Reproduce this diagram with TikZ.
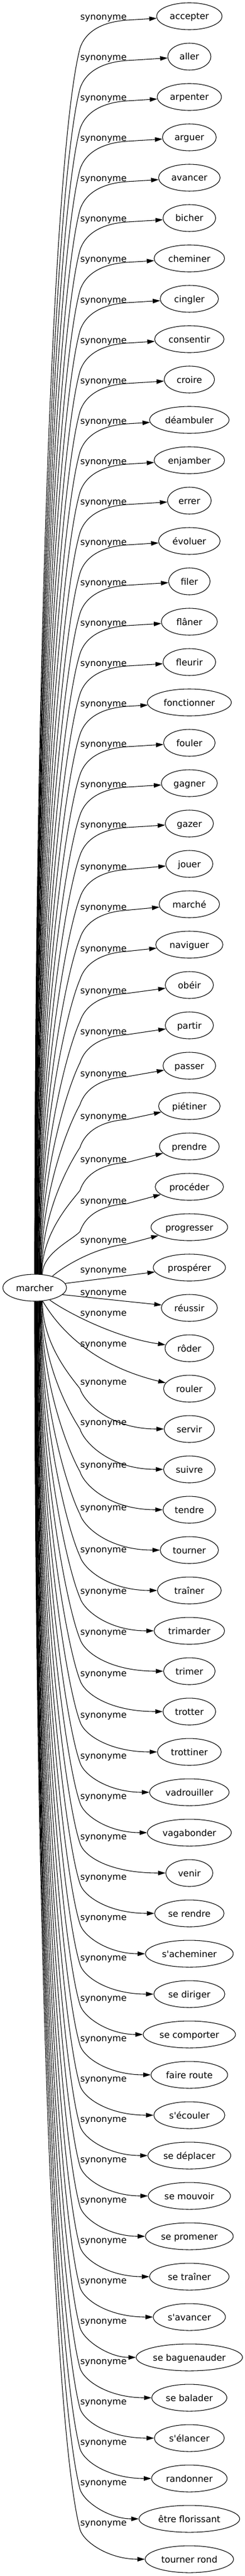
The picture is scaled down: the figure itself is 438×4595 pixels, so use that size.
\documentclass[tikz,border=0pt]{standalone}
\usepackage{fontspec}
\newfontfamily\dv{DejaVu Sans}
\usetikzlibrary{arrows.meta,shapes.geometric,calc}
\def\lst{1/accepter/117/2, 2/aller/77/2, 3/arpenter/115/2, 4/arguer/96/2, 5/avancer/110/2, 6/bicher/94/2, 7/cheminer/126/2, 8/cingler/104/2, 9/consentir/124/2, 10/croire/90/2, 11/déambuler/142/2, 12/enjamber/126/2, 13/errer/78/2, 14/évoluer/110/2, 15/filer/74/2, 16/flâner/100/2, 17/fleurir/94/2, 18/fonctionner/150/2, 19/fouler/92/2, 20/gagner/100/2, 21/gazer/86/2, 22/jouer/84/5, 23/marché/108/5.6, 24/naviguer/120/7, 25/obéir/86/10, 26/partir/86/11.6, 27/passer/94/14.5, 28/piétiner/110/18.8, 29/prendre/107/23.5, 30/procéder/122/25, 31/progresser/137/23, 32/prospérer/129/4, 33/réussir/100/-28, 34/rôder/87/-63, 35/rouler/92/-80, 36/servir/90/-84, 37/suivre/92/-84, 38/tendre/94/-80, 39/tourner/104/-76, 40/traîner/114/-73, 41/trimarder/126/-71, 42/trimer/92/-69.4, 43/trotter/94/-68, 44/trottiner/114/-66, 45/vadrouiller/142/-65, 46/vagabonder/150/-65, 47/venir/84/-65, 48/se rendre/124/-65, 49/s'acheminer/157/-65, 50/se diriger/127/-65, 51/se comporter/165/-65, 52/faire route/137/-65, 53/s'écouler/127/-65, 54/se déplacer/148/-65, 55/se mouvoir/147/-65, 56/se promener/157/-65, 57/se traîner/142/-65, 58/s'avancer/129/-65, 59/se baguenauder/190/-65, 60/se balader/134/-65, 61/s'élancer/125/-65, 62/randonner/135/-65, 63/être florissant/180/-65, 64/tourner rond/158/-65}
\begin{document}
\begin{tikzpicture}[x=0.75pt,y=-0.75pt,
  word/.style={ellipse, draw, line width=0.8pt, inner sep=0pt, minimum height=36pt,
    text height=9pt, text depth=0pt, font=\dv\fontsize{12pt}{14pt}\selectfont},
  rel/.style={inner sep=0pt, anchor=base, font=\dv\fontsize{12pt}{14pt}\selectfont},
  syn/.style={line width=0.8pt, -{Triangle[length=10pt,width=6pt]}}]
\useasboundingbox (0,0) rectangle (438,4595);
\node[word, minimum width=114*0.75pt] (m) at (62,2297) {marcher};
\foreach \ii/\tx/\ww/\of in \lst {
  \pgfmathsetmacro\Ny{29+72*(\ii-1)}
  \pgfmathsetmacro\Ly{\Ny+(\of)}
  \pgfmathsetmacro\Wd{\ww*0.75}
  \node[word, minimum width=\Wd pt] (n\ii) at (338.5,\Ny) {\tx};
  \node[rel] (l\ii) at (185,\Ly+5) {synonyme};
}
\foreach \ii/\tx/\ww/\of in \lst {
  \pgfmathsetmacro\Ny{29+72*(\ii-1)}
  \pgfmathsetmacro\Ly{\Ny+(\of)}
  \ifnum\ii<31
    \pgfmathtruncatemacro\Ag{90-30*((\ii-1)/29)^2}
    \pgfmathsetmacro\Py{\Ly+55}
    \pgfmathsetmacro\Dd{2273-\Py}
    \pgfmathsetmacro\Ca{0.49*\Dd}
    \pgfmathsetmacro\Cx{128-0.015*\Dd}
    \pgfmathsetmacro\Cy{\Py+0.08*\Dd+10}
    \draw[syn] (m.\Ag) .. controls ($(m.\Ag)+(0,-\Ca)$) and (\Cx,\Cy) .. (143,\Py)
      .. controls (152,\Ly+27) and (180,\Ly+8) .. (227,\Ly+5) -- (n\ii);
  \fi
  \ifnum\ii>35
    \pgfmathtruncatemacro\Ag{-(90-30*((64-\ii)/28)^2)}
    \pgfmathsetmacro\Py{\Ly+12}
    \pgfmathsetmacro\Dd{\Py-2321}
    \pgfmathsetmacro\Ca{0.49*\Dd}
    \pgfmathsetmacro\Cx{128-0.015*\Dd}
    \pgfmathsetmacro\Cy{\Py-0.08*\Dd-10}
    \draw[syn] (m.\Ag) .. controls ($(m.\Ag)+(0,\Ca)$) and (\Cx,\Cy) .. (143,\Py)
      .. controls (150,\Ly+35) and (195,\Ny) .. (n\ii);
  \fi
}
\draw[syn] (m.33) .. controls (115,2258) and (170,2225) .. (227,2219) -- (n31);
\draw[syn] (m.8) -- (n32);
\draw[syn] (m.-14) -- (n33);
\draw[syn] (m.-39) .. controls (110,2335) and (200,2385) .. (n34);
\draw[syn] (m.-59) .. controls (105,2370) and (165,2435) .. (n35);
\end{tikzpicture}
\end{document}
